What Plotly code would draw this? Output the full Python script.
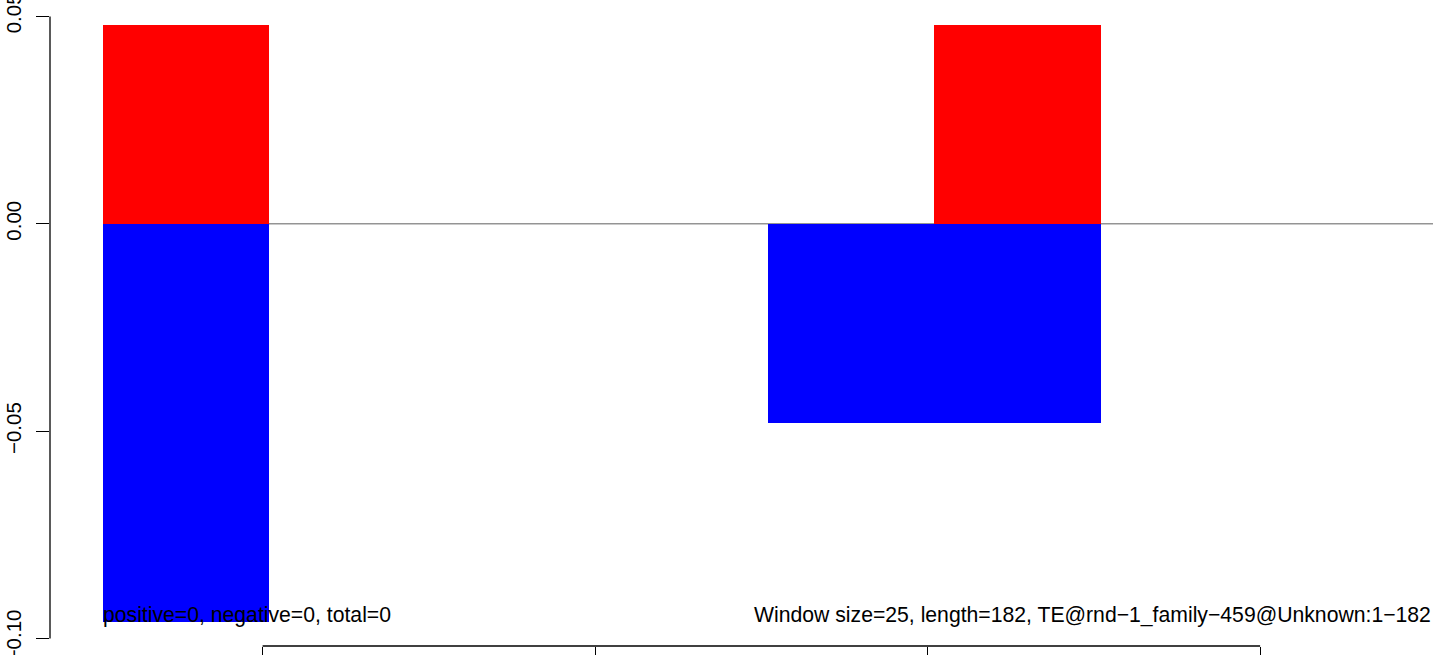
import plotly.graph_objects as go

# Data
window_starts = [1, 26, 51, 76, 101, 126, 151, 176]
window_size = 25
positive_vals = [0.048, 0, 0, 0, 0, 0.048, 0, 0]
negative_vals = [-0.096, 0, 0, 0, -0.048, -0.048, 0, 0]
y_ticks = [-0.10, -0.05, 0.00, 0.05]
y_tick_labels = ["\u22120.10", "\u22120.05", "0.00", "0.05"]
x_ticks = [25, 75, 125, 175]
left_note = "positive=0, negative=0, total=0"
right_note = "Window size=25, length=182, TE@rnd\u22121_family\u2212459@Unknown:1\u2212182"

centers = [s + window_size / 2 for s in window_starts]
FONT = "Liberation Sans, Arial, sans-serif"

fig = go.Figure()
fig.add_trace(go.Bar(x=centers, y=positive_vals, width=window_size,
                     marker=dict(color="#FF0000", line=dict(width=0)),
                     showlegend=False, hoverinfo="skip"))
fig.add_trace(go.Bar(x=centers, y=negative_vals, width=window_size,
                     marker=dict(color="#0000FF", line=dict(width=0)),
                     showlegend=False, hoverinfo="skip"))

x_min = window_starts[0]
x_max = window_starts[-1] + window_size
px_per_unit = (1433 - 103) / (x_max - x_min)
x_range = [x_min - (103 - 50) / px_per_unit, x_max]

y_top, y_bot = 0.05, -0.10
ypx = (638.5 - 16.5) / 0.15
y_range = [y_bot - (646 - 638.5) / ypx, y_top + 16.5 / ypx]

shapes = [
    dict(type="line", xref="x", yref="y", x0=x_min, x1=x_max, y0=0, y1=0,
         line=dict(color="#606060", width=1), layer="below"),
    dict(type="line", xref="paper", yref="y", x0=0, x1=0, y0=min(y_ticks), y1=max(y_ticks),
         line=dict(color="black", width=1.3)),
    dict(type="line", xref="x", yref="paper", x0=min(x_ticks), x1=max(x_ticks), y0=0, y1=0,
         line=dict(color="black", width=1.3)),
]

annotations = [
    dict(text=left_note, xref="x", yref="paper", x=x_min, y=(646 - 615) / 646,
         xanchor="left", yanchor="middle", showarrow=False,
         font=dict(family=FONT, size=21.2, color="black"), xshift=-2),
    dict(text=right_note, xref="paper", yref="paper", x=1, y=(646 - 615) / 646,
         xanchor="right", yanchor="middle", showarrow=False,
         font=dict(family=FONT, size=21.2, color="black")),
]

fig.update_layout(
    width=1433, height=655,
    margin=dict(l=50, r=0, t=0, b=9, pad=0),
    paper_bgcolor="white", plot_bgcolor="white",
    barmode="overlay", bargap=0,
    shapes=shapes, annotations=annotations,
    font=dict(family=FONT, size=20, color="black"),
    xaxis=dict(range=x_range, showgrid=False, zeroline=False, showline=False,
               tickmode="array", tickvals=x_ticks, showticklabels=False,
               ticks="outside", ticklen=11, tickwidth=1.3, tickcolor="black",
               automargin=False, fixedrange=True),
    yaxis=dict(range=y_range, showgrid=False, zeroline=False, showline=False,
               tickmode="array", tickvals=y_ticks, ticktext=y_tick_labels,
               ticks="outside", ticklen=13, tickwidth=1.3, tickcolor="black",
               tickangle=-90, tickfont=dict(family=FONT, size=20.5),
               ticklabeloverflow="allow", ticklabelstandoff=7,
               automargin=False, fixedrange=True),
)

fig.write_html("out.html", config={"displayModeBar": False},
               post_script="document.body.style.margin='0';document.body.style.overflow='hidden';")
